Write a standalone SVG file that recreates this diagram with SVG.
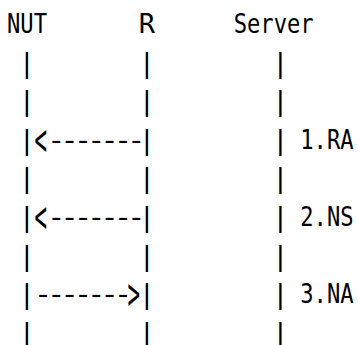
<svg xmlns="http://www.w3.org/2000/svg" width="358" height="345" viewBox="0 0 358 345">
  <style>
    .t { font-family: "DejaVu Sans Mono", "Liberation Mono", monospace; font-size: 27px; fill: #000; }
    .c { text-anchor: middle; }
    .d { letter-spacing: -4.6px; }
    .h { font-size: 44px; }
  </style>
  <rect width="358" height="345" fill="#fff"/>
  <g id="node-nut">
    <text class="t" x="7" y="33" textLength="40" lengthAdjust="spacingAndGlyphs">NUT</text>
    <text class="t c" x="27" y="71.6">|</text>
    <text class="t c" x="27" y="110.2">|</text>
    <text class="t c" x="27" y="148.8">|</text>
    <text class="t c" x="27" y="187.4">|</text>
    <text class="t c" x="27" y="226">|</text>
    <text class="t c" x="27" y="264.6">|</text>
    <text class="t c" x="27" y="303.2">|</text>
    <text class="t c" x="27" y="341.8">|</text>
  </g>
  <g id="node-r">
    <text class="t c" x="147" y="33">R</text>
    <text class="t c" x="147" y="71.6">|</text>
    <text class="t c" x="147" y="110.2">|</text>
    <text class="t c" x="147" y="148.8">|</text>
    <text class="t c" x="147" y="187.4">|</text>
    <text class="t c" x="147" y="226">|</text>
    <text class="t c" x="147" y="264.6">|</text>
    <text class="t c" x="147" y="303.2">|</text>
    <text class="t c" x="147" y="341.8">|</text>
  </g>
  <g id="node-server">
    <text class="t" x="233.7" y="33" textLength="80" lengthAdjust="spacingAndGlyphs">Server</text>
    <text class="t c" x="280.3" y="71.6">|</text>
    <text class="t c" x="280.3" y="110.2">|</text>
    <text class="t c" x="280.3" y="148.8">|</text>
    <text class="t c" x="280.3" y="187.4">|</text>
    <text class="t c" x="280.3" y="226">|</text>
    <text class="t c" x="280.3" y="264.6">|</text>
    <text class="t c" x="280.3" y="303.2">|</text>
    <text class="t c" x="280.3" y="341.8">|</text>
  </g>
  <g id="connectors">
    <g id="msg-ra">
      <text class="t h" x="34.5" y="155" textLength="12.5" lengthAdjust="spacingAndGlyphs">&lt;</text>
      <text class="t d" x="47" y="148.8" textLength="93.3" lengthAdjust="spacingAndGlyphs">-------</text>
    </g>
    <g id="msg-ns">
      <text class="t h" x="34.5" y="232.2" textLength="12.5" lengthAdjust="spacingAndGlyphs">&lt;</text>
      <text class="t d" x="47" y="226" textLength="93.3" lengthAdjust="spacingAndGlyphs">-------</text>
    </g>
    <g id="msg-na">
      <text class="t d" x="33.7" y="303.2" textLength="93.3" lengthAdjust="spacingAndGlyphs">-------</text>
      <text class="t h" x="127.5" y="309.4" textLength="12.5" lengthAdjust="spacingAndGlyphs">&gt;</text>
    </g>
  </g>
  <g id="labels">
    <text class="t" x="300.3" y="148.8" textLength="53.3" lengthAdjust="spacingAndGlyphs">1.RA</text>
    <text class="t" x="300.3" y="226" textLength="53.3" lengthAdjust="spacingAndGlyphs">2.NS</text>
    <text class="t" x="300.3" y="303.2" textLength="53.3" lengthAdjust="spacingAndGlyphs">3.NA</text>
  </g>
</svg>
